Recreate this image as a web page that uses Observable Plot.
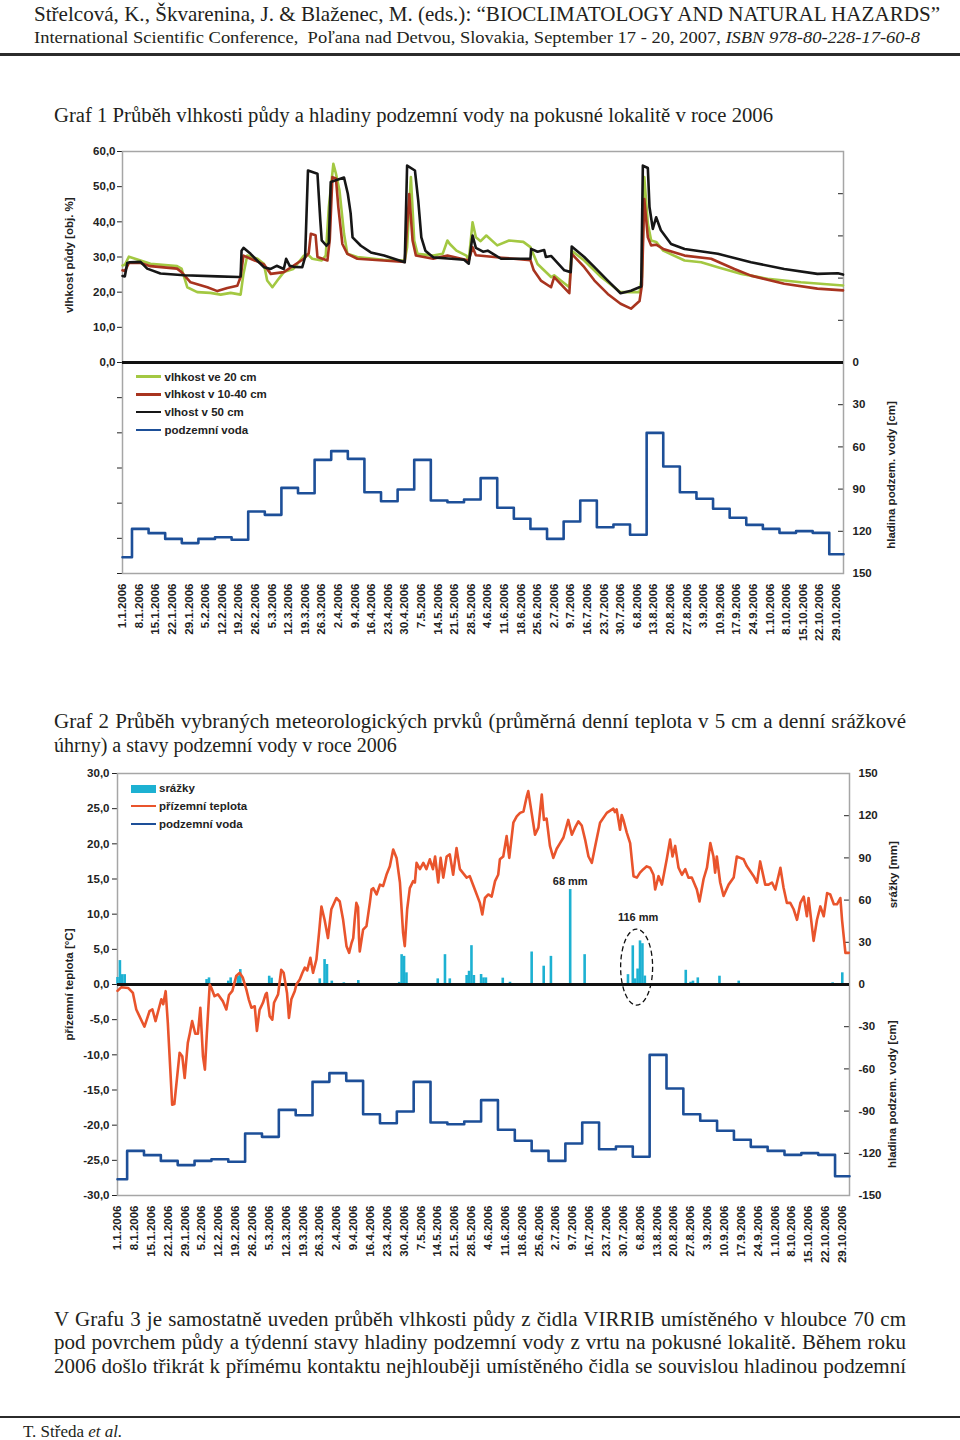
<!DOCTYPE html>
<html><head><meta charset="utf-8">
<script src="https://cdn.jsdelivr.net/npm/d3@7"></script>
<script src="https://cdn.jsdelivr.net/npm/@observablehq/plot@0.6"></script>
<style>
body{margin:0;background:#fff;}
#page{position:relative;width:960px;height:1440px;overflow:hidden;font-family:"Liberation Serif","Times New Roman",serif;color:#231f20;background:#fff;}
.t{position:absolute;white-space:nowrap;line-height:1;transform-origin:0 50%;}
.rule{position:absolute;left:0;width:960px;background:#2b2b2b;}
.chart{position:absolute;left:0;}
.lg{position:absolute;white-space:nowrap;font-family:"Liberation Sans",Arial,sans-serif;font-weight:bold;font-size:11.5px;line-height:14px;color:#222;}
.sw{position:absolute;}
</style></head>
<body><div id="page">
<div class="t" id="h1" style="left:34px;top:3.5px;font-size:21px;">Střelcová, K., Škvarenina, J. &amp; Blaženec, M. (eds.): “BIOCLIMATOLOGY AND NATURAL HAZARDS”</div>
<div class="t" id="h2" style="left:34px;top:28.5px;font-size:17px;">International Scientific Conference, &nbsp;Poľana nad Detvou, Slovakia, September 17 - 20, 2007, <i>ISBN 978-80-228-17-60-8</i></div>
<div class="rule" style="top:53px;height:3px;"></div>
<div class="t" id="g1" style="left:54px;top:105px;font-size:20px;">Graf 1 Průběh vlhkosti půdy a hladiny podzemní vody na pokusné lokalitě v roce 2006</div>
<div class="chart" id="c1" style="top:140px;"></div>
<div class="t" id="g2a" style="left:54px;top:711px;font-size:20px;">Graf 2 Průběh vybraných meteorologických prvků (průměrná denní teplota v 5 cm a denní srážkové</div>
<div class="t" id="g2b" style="left:54px;top:735px;font-size:20px;">úhrny) a stavy podzemní vody v roce 2006</div>
<div class="chart" id="c2" style="top:760px;"></div>
<div class="t" id="b1" style="left:54px;top:1309px;font-size:20px;">V Grafu 3 je samostatně uveden průběh vlhkosti půdy z čidla VIRRIB umístěného v hloubce 70 cm</div>
<div class="t" id="b2" style="left:54px;top:1332px;font-size:20px;">pod povrchem půdy a týdenní stavy hladiny podzemní vody z vrtu na pokusné lokalitě. Během roku</div>
<div class="t" id="b3" style="left:54px;top:1356px;font-size:20px;">2006 došlo třikrát k přímému kontaktu nejhlouběji umístěného čidla se souvislou hladinou podzemní</div>
<div class="rule" style="top:1416px;height:2px;"></div>
<div class="t" id="ft" style="left:23px;top:1423px;font-size:17px;">T. Středa <i>et al.</i></div>
<div id="leg"></div>
</div>
<script>
// ---------- data ----------
const tickLabels = ["1.1.2006","8.1.2006","15.1.2006","22.1.2006","29.1.2006","5.2.2006","12.2.2006","19.2.2006","26.2.2006","5.3.2006","12.3.2006","19.3.2006","26.3.2006","2.4.2006","9.4.2006","16.4.2006","23.4.2006","30.4.2006","7.5.2006","14.5.2006","21.5.2006","28.5.2006","4.6.2006","11.6.2006","18.6.2006","25.6.2006","2.7.2006","9.7.2006","16.7.2006","23.7.2006","30.7.2006","6.8.2006","13.8.2006","20.8.2006","27.8.2006","3.9.2006","10.9.2006","17.9.2006","24.9.2006","1.10.2006","8.10.2006","15.10.2006","22.10.2006","29.10.2006"];

// soil moisture [day of year (0 = 1.1.2006), % vol.]
const moist20 = [[0,27.6],[1,27.8],[2.7,30.1],[7.6,29],[11.8,28.1],[23,27.4],[24.9,26.7],[27.3,21.4],[31.5,20],[37,19.8],[41.4,19.3],[45.6,19.8],[49.8,19.3],[51,25.2],[52.6,30.4],[56.9,29.5],[59.6,28.1],[61,23.3],[63.2,21.4],[65.3,23.3],[68,25.7],[72,26.6],[76.5,30.4],[78,30.8],[80,29.5],[84,29],[85.7,30.4],[87,44.2],[88.9,56.5],[90,53.7],[91.5,48.9],[93.4,36.6],[94.8,30.9],[99,30],[110,29.2],[119,29],[120,32.8],[121.6,52.7],[123,34.7],[124.4,30.9],[131,30.4],[135,30.9],[137,34.7],[138,33.7],[140.8,31.8],[145,30.4],[146,29],[147.6,39.9],[149,35.6],[151,34.5],[153.4,36.1],[158,33.3],[163,34.7],[169,34.3],[172,32.8],[175,28],[180.7,24.3],[182,24.8],[188.4,21.4],[189.4,31.8],[194.7,29],[201.8,24.3],[210,20],[218,20],[219,24.3],[220,52.7],[221.5,39.5],[222.9,34.7],[225,34.3],[228,31.8],[237,29],[244,28.5],[251,27.1],[261,25.2],[272,23.8],[286,22.8],[303.8,21.9]];
const moist1040 = [[0,26.2],[1,26],[2.7,28.3],[7.6,28.3],[11.8,27.4],[23,26.7],[24.9,25.7],[28.7,22.8],[35.8,21.4],[40,20.3],[44.2,21.2],[48.4,21.8],[49.8,24.3],[51,30.4],[54,29.5],[59.6,27.9],[62.5,25.2],[68,25.7],[72,27.5],[76.5,29.5],[78.5,31],[79.4,36.6],[81.4,36.2],[82.2,30],[86.4,29],[87.4,35],[88.5,52.7],[90,52.3],[91,44.2],[92.7,33.7],[94.8,30.9],[99,29.5],[110,29],[119,28.6],[120.9,47.9],[122.3,34.7],[123.7,30.4],[131,29.5],[137,30.4],[146,29],[147.6,32.8],[149,30.5],[160,29.8],[172,29.1],[173.4,26.2],[176.4,23.3],[180.7,21.4],[182,24.3],[188.4,19.7],[189.4,30.9],[194.7,27.1],[199,23.3],[204.6,19.5],[210,16.7],[214.4,15.3],[218,17.5],[219,22],[220,46.5],[221.5,35.6],[222.9,33.3],[225,33.5],[228,32.3],[237,30.4],[248.2,29.5],[258,26.6],[265,24.7],[279,22.4],[293,21],[303.8,20.5]];
const moist50 = [[0,24.6],[1,24.5],[2,28.3],[3,28.5],[7.6,28.6],[10.4,26.7],[16,25.3],[26,24.8],[40,24.5],[49,24.3],[49.8,24.5],[50.2,31.8],[51,32.6],[54,30.9],[59.6,27.1],[62.5,26.6],[65,27.5],[68,26.6],[69,29.5],[70.5,27.5],[72.2,27.2],[75.8,27.1],[77,30],[78.2,54.6],[82.2,53.7],[83.4,40.4],[84,34.7],[86,33.2],[87,34],[87.8,51.3],[93.4,52.6],[95,48],[96.2,42.4],[97,35.6],[100.5,33.2],[104.7,31.3],[110.3,30.4],[119,28.5],[120,56],[123.3,54.6],[124.7,46],[126,35.6],[127.7,31.8],[131,29.9],[138.6,29.5],[144,29.2],[146,28.1],[147.6,36.1],[149,32.6],[152,31.5],[154,31.8],[159.6,29.5],[172,29.5],[172.3,32.3],[175,31.5],[177.8,32],[178.5,30],[180.7,30.3],[186.3,26.2],[189,25.7],[189.4,33],[194.7,30],[199,27.1],[204.6,23.3],[210,19.7],[214.4,20.4],[218.7,21.6],[219.4,56],[221.5,55.3],[222.2,44.2],[223.6,38],[225,41.3],[227,37.6],[231.3,33.7],[237,32.3],[251,30.9],[265,28.5],[279,26.6],[293,25.2],[301.6,25.4],[303.8,25]];

// groundwater level (weekly, depth below surface in cm); step starts (day of year)
const gwDays = [0,4,11,18,25,32,39,46,53,60,67,74,81,88,95,102,109,116,123,130,137,144,151,158,165,172,179,186,193,200,207,214,221,228,235,242,249,256,263,270,277,284,291,298];
const gwDepth = [138.4,118.3,121.3,125.4,128.4,125.4,124.2,126,105.9,108.3,89.1,92.9,69.2,63,68.5,92.2,98.6,90.3,69.2,98.1,99.3,97.4,82.2,103.3,111.1,118.3,125.4,113,98.1,117.1,115.2,122.5,50,73.9,92.2,96.9,104,110.4,115.4,118.3,121.1,119.9,121.1,136.3];

// daily ground temperature in 5 cm [day, °C]
const temperature = [[0,-0.9],[1.5,-0.4],[4.5,-0.5],[6.4,-1.2],[7.8,-3.55],[9.1,-4.5],[11.2,-6],[13.3,-3.8],[14.5,-3.55],[15.8,-5.2],[18.2,-2.1],[19,-2.8],[20,-0.95],[20.9,-5.45],[22.7,-17.1],[23.6,-17],[25.8,-9.7],[26.9,-10.2],[27.9,-13.3],[29.2,-8.3],[30,-7],[31,-5.2],[32.3,-7],[33.4,-7],[34.4,-3.3],[35.5,-10.2],[36.3,-12.1],[37.1,-7],[38.3,0],[39,-0.5],[40.3,-1.66],[41.7,-1.4],[43.8,-2.4],[45.2,-3.55],[46.3,-1.5],[47.7,-0.9],[49.3,1.2],[50.7,1.66],[52,1],[53.5,-0.7],[54.5,-2.1],[55.6,-3.3],[57,-3.1],[57.9,-6.6],[59,-3.6],[60.4,-2.6],[61.5,-1.4],[62,-1.2],[63.2,-4.5],[64.3,-5],[65,-2.6],[66.7,-1.4],[68,2.1],[69,1.66],[70.4,-1.2],[71.2,-4.75],[72.2,-2.1],[73.6,-0.95],[74.3,0],[75.7,0.7],[76.8,1.66],[77.8,2.4],[78.8,2],[80.1,3.8],[81.2,1.66],[82.6,3.55],[83.7,7.35],[84.7,11.1],[86,9.2],[87.4,6.6],[88.8,10.7],[90.9,12.3],[92.3,11.8],[93.7,9.2],[95.1,5.45],[96.2,4.5],[97.2,5.9],[97.9,6.6],[98.5,9.2],[99.2,11.6],[99.9,11],[100.3,6.6],[100.6,4.7],[102,7.8],[103.4,8.3],[104.8,11.6],[105.5,13.5],[106.2,13.7],[107.6,12.8],[109,14.2],[110.3,14],[111.7,15.6],[113.1,16.8],[114.5,19.2],[115.9,18],[117.3,14.5],[118.6,7.35],[119.3,5.45],[120.3,10.7],[121.4,13.7],[122.8,14.7],[123.5,14.5],[124.2,17.3],[125.6,16.4],[127,17.3],[128.3,16.4],[129.7,17.8],[131,16.4],[131.9,18.2],[133.2,14.5],[134.2,18],[135.3,15.2],[136.7,18.2],[138,18.5],[139.4,15.6],[140.8,19.4],[142.2,16.4],[145,15.2],[146.3,15.4],[148.4,13.5],[150.5,11.6],[151.5,9.95],[152.6,12.3],[154,12.8],[155.4,12.5],[156.8,14.7],[158.1,15.6],[158.8,17.8],[160.2,18.2],[161.6,21.1],[162.7,18],[164.4,23],[165.8,23.9],[167.2,24.4],[168.6,24.6],[170,26.8],[170.6,27.5],[172,24.4],[173.4,21.3],[174.8,22.3],[176.2,27],[177.1,23.4],[178.2,23.6],[179.6,19.7],[181,18],[182.4,19.3],[183.8,20.1],[185.2,20.9],[187.2,23.4],[188.7,21.3],[190,22.3],[191.4,23.2],[192.8,22.6],[194.2,20.6],[195.6,18.2],[197,17.3],[198.4,19.7],[200.4,23],[203.2,24.4],[205.9,25],[206.6,24.5],[207.3,24.9],[208.7,22],[209.4,24.1],[210.1,23.4],[211.5,21.6],[212.9,20.1],[214.3,15.4],[215.7,15.2],[217,15.9],[218.4,16.4],[219.8,16.8],[221.2,16.6],[222.6,15.6],[223.3,13.5],[224.7,15.4],[226.1,14.2],[228.1,17.8],[229.5,20.6],[230.5,18.2],[231.6,19.7],[233,16.6],[234.4,15.6],[235.8,16.4],[237.1,15.2],[238.5,15.2],[240.6,13.5],[241.7,11.8],[243.4,15],[244.8,16.6],[246.2,20.1],[247.5,18.2],[248.2,15.9],[248.9,18.2],[250.3,14.5],[251.7,12.6],[253.8,14.2],[255.9,15.2],[257.2,18.2],[258.6,18],[260,17.8],[261.4,16.8],[262.8,16.1],[264.2,15.4],[265.6,14.5],[266.9,17.5],[269,14.2],[270.4,14.2],[271.8,14.5],[273.2,13.5],[275.3,16.6],[276.6,13.8],[278,11.6],[279.4,11.6],[280.8,10.7],[282.2,9.2],[283.6,11.6],[285,12.5],[286.3,9.7],[287,12.3],[289.1,6.2],[290.5,9.2],[291.9,11.1],[293.3,9.7],[294.7,13],[296,12.8],[297.5,11.4],[298.8,11.4],[300.2,12.3],[300.9,9.2],[302.3,4.5],[303.7,4.5]];

// daily precipitation [day, mm]
const precipitation = [[0,5],[1,17],[2,7],[3,7],[37,3.5],[38,4.7],[46,2.4],[47,4.7],[50,5.9],[51,10.6],[63,5.9],[64,4.5],[84,4],[86,17.7],[87,14.2],[89,2.4],[94,1.2],[100,2.8],[117,1.5],[118,21.2],[119,20],[120,8.3],[133,4],[136,21.2],[138,4],[145,6.4],[146,9.4],[147,27.6],[148,6.4],[151,7.1],[152,4.7],[153,4.7],[160,4.5],[163,1.6],[172,23.1],[177,13],[180,20],[188,67.5],[194,21.2],[212,7],[214,27.5],[215,4],[216,11],[217,31],[218,29],[219,6],[236,10.1],[238,1.6],[239,2.4],[241,4.7],[250,5.9],[258,2.4],[297,1.2],[301,8.3]];

const legend1 = ["vlhkost ve 20 cm","vlhkost v 10-40 cm","vlhost v 50 cm","podzemní voda"];
const legend2 = ["srážky","přízemní teplota","podzemní voda"];
const notes2 = [{text:"68 mm", day:188, at:68}, {text:"116 mm", day:216.2, at:42.7}];

// ---------- helpers ----------
const C = {green:"#a3c842", red:"#a8341f", black:"#161616", blue:"#1d4f98", orange:"#e9542c", cyan:"#1db1d2", frame:"#a6a6a6"};
const day0 = Date.UTC(2006,0,1);
const toDate = d => new Date(day0 + d*864e5);
const xDomain = [toDate(0), toDate(304)];
const tickDates = tickLabels.map(s => {const [d,m,y] = s.split(".").map(Number); return new Date(Date.UTC(y,m-1,d));});
const fmtTick = t => tickLabels[tickDates.findIndex(v => +v === +t)];
const comma1 = v => v.toFixed(1).replace(".", ",").replace("-0,0","0,0");
const gwSteps = gwDays.map((d,i) => ({date: toDate(d), depth: gwDepth[i]}));
gwSteps.push({date: toDate(304), depth: gwDepth[gwDepth.length-1]});
const font = "'Liberation Sans', Arial, sans-serif";
const style = {fontFamily: font, fontSize: "11.5px", fontWeight: "bold", color: "#222", background: "transparent", overflow: "visible"};
const lineOpts = (arr, color) => Plot.line(arr, {x: d => toDate(d[0]), y: d => d[1], stroke: color, strokeWidth: 2.6, strokeLinejoin: "round"});
const title = (s, opts) => Plot.text([s], {rotate: -90, textAnchor: "middle", fontSize: 11.5, fontWeight: "bold", fill: "#222", ...opts});

// ---------- chart 1 ----------
const K1 = 0.4; // cm of groundwater -> left-axis units
const right1 = d3.range(-150, 151, 30).map(d => -d*K1);
const chart1 = Plot.plot({
  width: 960, height: 520, marginLeft: 122, marginRight: 117, marginTop: 11, marginBottom: 87,
  style,
  x: {type: "utc", domain: xDomain, label: null},
  y: {domain: [-60, 60], label: null},
  marks: [
    Plot.axisY(d3.range(-60, 61, 10), {anchor: "left", tickSize: 5, tickPadding: 2, tickFormat: v => v >= 0 ? comma1(v) : "", label: null}),
    Plot.axisY(right1, {anchor: "right", tickSize: 6, dx: -6, tickFormat: () => "", label: null}),
    Plot.axisY(right1.filter(v => v <= 0), {anchor: "right", tickSize: 0, tickPadding: 9, tickFormat: v => String(Math.round(-v/K1)), label: null}),
    Plot.axisX(tickDates, {anchor: "bottom", tickSize: 0, tickPadding: 10, tickRotate: -90, tickFormat: fmtTick, label: null}),
    Plot.frame({stroke: C.frame, strokeWidth: 1.5}),
    Plot.ruleY([0], {stroke: "#111", strokeWidth: 3.2}),
    lineOpts(moist20, C.green),
    lineOpts(moist1040, C.red),
    lineOpts(moist50, C.black),
    Plot.line(gwSteps, {x: "date", y: d => -d.depth*K1, curve: "step-after", stroke: C.blue, strokeWidth: 2.6}),
    title("vlhkost půdy [obj. %]", {frameAnchor: "left", y: 30.5, dx: -53}),
    title("hladina podzem. vody [cm]", {frameAnchor: "right", y: -32, dx: 48})
  ]
});
document.getElementById("c1").append(chart1);

// ---------- chart 2 ----------
const K2 = 0.2; // mm / cm -> left-axis units
const right2 = d3.range(-30, 31, 6);
const chart2 = Plot.plot({
  width: 960, height: 520, marginLeft: 117, marginRight: 111, marginTop: 13, marginBottom: 85,
  style,
  x: {type: "utc", domain: xDomain, label: null},
  y: {domain: [-30, 30], label: null},
  marks: [
    Plot.axisY(d3.range(-30, 31, 5), {anchor: "left", tickSize: 5, tickPadding: 3, tickFormat: comma1, label: null}),
    Plot.axisY(right2, {anchor: "right", tickSize: 6, dx: -6, tickFormat: () => "", label: null}),
    Plot.axisY(right2, {anchor: "right", tickSize: 0, tickPadding: 9, tickFormat: v => String(Math.round(v/K2)), label: null}),
    Plot.axisX(tickDates, {anchor: "bottom", tickSize: 0, tickPadding: 10, tickRotate: -90, tickFormat: fmtTick, label: null}),
    Plot.frame({stroke: C.frame, strokeWidth: 1.5}),
    Plot.ruleX(precipitation, {x: d => toDate(d[0]), y1: 0, y2: d => d[1]*K2, stroke: C.cyan, strokeWidth: 2.6}),
    Plot.ruleY([0], {stroke: "#111", strokeWidth: 3.2}),
    lineOpts(temperature, C.orange),
    Plot.line(gwSteps, {x: "date", y: d => -d.depth*K2, curve: "step-after", stroke: C.blue, strokeWidth: 2.6}),
    Plot.text(notes2, {x: d => toDate(d.day), y: d => d.at*K2, text: "text", dy: -7, fontSize: 11, fontWeight: "bold", fill: "#222"}),
    (index, scales) => {
      const e = d3.create("svg:ellipse")
        .attr("cx", scales.x(toDate(215.8))).attr("cy", scales.y(12*K2))
        .attr("rx", 16).attr("ry", 38)
        .attr("fill", "none").attr("stroke", "#111").attr("stroke-width", 1.3).attr("stroke-dasharray", "5,3");
      return e.node();
    },
    title("přízemní teplota [°C]", {frameAnchor: "left", y: 0, dx: -48}),
    title("srážky [mm]", {frameAnchor: "right", y: 15.6, dx: 44}),
    title("hladina podzem. vody [cm]", {frameAnchor: "right", y: -15.6, dx: 43})
  ]
});
document.getElementById("c2").append(chart2);

// ---------- legends (inside the plot areas) ----------
const leg = document.getElementById("leg");
function sw(left, top, w, h, color) {
  const d = document.createElement("div"); d.className = "sw";
  Object.assign(d.style, {left: left+"px", top: top+"px", width: w+"px", height: h+"px", background: color});
  leg.append(d);
}
function lt(left, cy, text) {
  const d = document.createElement("div"); d.className = "lg";
  d.style.left = left + "px"; d.style.top = (cy - 7) + "px"; d.textContent = text; leg.append(d);
}
const l1c = [C.green, C.red, C.black, C.blue];
legend1.forEach((s, i) => { const cy = 376.5 + i*17.8; sw(136, cy - 1.3, 25, 2.6, l1c[i]); lt(164.5, cy, s); });
sw(131, 784.5, 25, 8, C.cyan); lt(159, 788.3, legend2[0]);
sw(131, 804.7, 25, 2.6, C.orange); lt(159, 806, legend2[1]);
sw(131, 822.7, 25, 2.6, C.blue); lt(159, 823.6, legend2[2]);

// ---------- text fitting ----------
function fit(id, target, justify) {
  const el = document.getElementById(id);
  const w = el.getBoundingClientRect().width;
  const ratio = target / w;
  if (justify && ratio > 1.05) {
    const s = 1.05, n = (el.textContent.match(/ /g) || []).length;
    el.style.wordSpacing = ((target / s - w) / n) + "px";
    el.style.transform = `scaleX(${s})`;
  } else {
    el.style.transform = `scaleX(${ratio})`;
  }
}
fit("h1", 906); fit("h2", 886); fit("g1", 719);
fit("g2a", 852, true); fit("b1", 852, true); fit("b2", 852, true); fit("b3", 852, true);
</script>
</body></html>
